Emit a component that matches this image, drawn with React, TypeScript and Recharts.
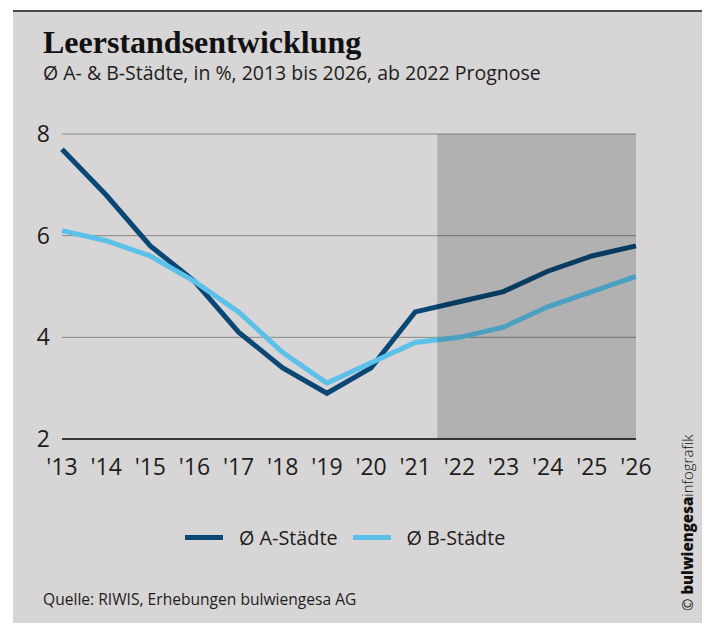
import { LineChart, Line, XAxis, YAxis, CartesianGrid, ReferenceArea } from "recharts";

// Leerstand in %, ab 2022 Prognose
const YEARS = [2013, 2014, 2015, 2016, 2017, 2018, 2019, 2020, 2021, 2022, 2023, 2024, 2025, 2026];
const TICK_LABELS = ["'13", "'14", "'15", "'16", "'17", "'18", "'19", "'20", "'21", "'22", "'23", "'24", "'25", "'26"];
const A_STAEDTE = [7.7, 6.8, 5.8, 5.1, 4.1, 3.4, 2.9, 3.4, 4.5, 4.7, 4.9, 5.3, 5.6, 5.8];
const B_STAEDTE = [6.1, 5.9, 5.6, 5.1, 4.5, 3.7, 3.1, 3.5, 3.9, 4.0, 4.2, 4.6, 4.9, 5.2];
const Y_TICKS = [2, 4, 6, 8];
const FORECAST_START = 2021.5;

const SERIES = [
  { key: "a", name: "Ø A-Städte", color: "#0a4774" },
  { key: "b", name: "Ø B-Städte", color: "#5bc1e8" },
];

const data = YEARS.map((year, i) => ({ year, a: A_STAEDTE[i], b: B_STAEDTE[i] }));

const FONT = "'Open Sans', sans-serif";
const TEXT = "#1d1d1b";

export default function App() {
  return (
    <div style={{ position: "absolute", left: 0, top: 0, width: 706, height: 623, background: "#fff" }}>
      <div
        style={{
          position: "absolute",
          left: 13,
          top: 10,
          width: 689,
          height: 613,
          background: "#d7d5d6",
          borderTop: "2px solid #4a4a4a",
        }}
      />
      <div
        style={{
          position: "absolute",
          left: 43,
          top: 26,
          fontFamily: "'Liberation Serif', serif",
          fontWeight: 700,
          fontSize: 32,
          lineHeight: "32px",
          color: "#111",
          whiteSpace: "nowrap",
        }}
      >
        Leerstandsentwicklung
      </div>
      <div
        style={{
          position: "absolute",
          left: 43,
          top: 63,
          fontFamily: FONT,
          fontSize: 19.5,
          lineHeight: "20px",
          color: TEXT,
          whiteSpace: "nowrap",
        }}
      >
        Ø A- &amp; B-Städte, in %, 2013 bis 2026, ab 2022 Prognose
      </div>

      <div style={{ position: "absolute", left: 0, top: 0 }}>
        <LineChart width={706} height={500} data={data} margin={{ top: 134, right: 70, left: 22, bottom: 21 }}>
          <CartesianGrid vertical={false} stroke="#8a8a8a" strokeWidth={1} />
          <XAxis
            dataKey="year"
            type="number"
            domain={[2013, 2026]}
            ticks={YEARS}
            interval={0}
            height={40}
            tickFormatter={(v: number) => TICK_LABELS[YEARS.indexOf(v)]}
            tick={{ fontSize: 23, fill: TEXT, fontFamily: FONT, fontStretch: "90%" }}
            axisLine={{ stroke: "#111", strokeWidth: 1.5 }}
            tickLine={false}
            tickMargin={14}
          />
          <YAxis
            type="number"
            domain={[2, 8]}
            ticks={Y_TICKS}
            width={40}
            tick={{ fontSize: 23, fill: TEXT, fontFamily: FONT, fontStretch: "90%" }}
            axisLine={false}
            tickLine={false}
            tickMargin={6}
          />
          {SERIES.map((s) => (
            <Line
              key={s.key}
              dataKey={s.key}
              name={s.name}
              type="linear"
              stroke={s.color}
              strokeWidth={5}
              dot={false}
              activeDot={false}
              isAnimationActive={false}
            />
          ))}
          <ReferenceArea
            x1={FORECAST_START}
            x2={2026}
            y1={2}
            y2={8}
            fill="#000"
            fillOpacity={0.17}
            stroke="none"
            zIndex={1000}
          />
        </LineChart>
      </div>

      <div
        style={{
          position: "absolute",
          left: 185,
          top: 526,
          height: 22,
          display: "flex",
          alignItems: "center",
          fontFamily: FONT,
          fontStretch: "88%",
          fontSize: 19.8,
          color: TEXT,
          whiteSpace: "nowrap",
        }}
      >
        {SERIES.map((s, i) => (
          <div key={s.key} style={{ display: "flex", alignItems: "center", marginLeft: i === 0 ? 0 : 15 }}>
            <span style={{ display: "inline-block", width: 38, height: 5, background: s.color, marginRight: 16 }} />
            <span>{s.name}</span>
          </div>
        ))}
      </div>

      <div
        style={{
          position: "absolute",
          left: 43,
          top: 591,
          fontFamily: FONT,
          fontSize: 15.6,
          lineHeight: "16px",
          color: TEXT,
          whiteSpace: "nowrap",
        }}
      >
        Quelle: RIWIS, Erhebungen bulwiengesa AG
      </div>

      <div
        style={{
          position: "absolute",
          left: 680,
          top: 611,
          transformOrigin: "0 0",
          transform: "rotate(-90deg)",
          fontFamily: FONT,
          fontSize: 15,
          lineHeight: "15px",
          color: "#111",
          whiteSpace: "nowrap",
        }}
      >
        © <span style={{ fontWeight: 800 }}>bulwiengesa</span>
        <span style={{ fontWeight: 300 }}>infografik</span>
      </div>
    </div>
  );
}
